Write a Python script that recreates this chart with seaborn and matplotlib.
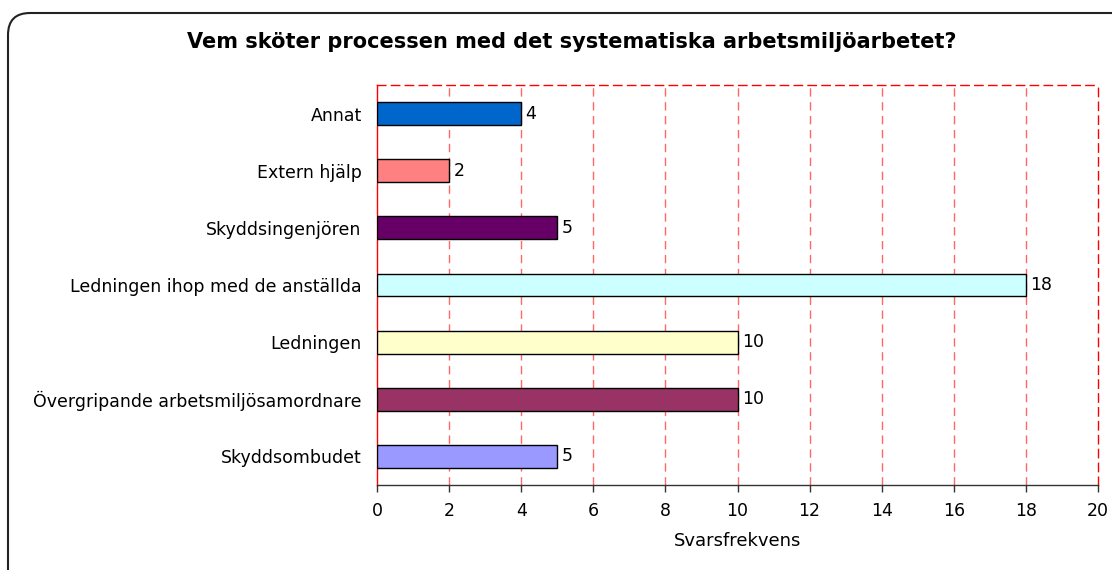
import matplotlib
matplotlib.use('Agg')
import matplotlib.pyplot as plt
from matplotlib.patches import FancyBboxPatch
from matplotlib.transforms import IdentityTransform
import seaborn as sns
import pandas as pd

categories = ['Annat', 'Extern hjälp', 'Skyddsingenjören', 'Ledningen ihop med de anställda',
              'Ledningen', 'Övergripande arbetsmiljösamordnare', 'Skyddsombudet']
values = [4, 2, 5, 18, 10, 10, 5]
colors = ['#0066CC', '#FF8080', '#660066', '#CCFFFF', '#FFFFCC', '#993366', '#9999FF']
xticks = list(range(0, 21, 2))

df = pd.DataFrame({'kategori': categories, 'antal': values})

sns.set_style('white')
plt.rcParams['font.family'] = ['DejaVu Sans']
plt.rcParams['text.color'] = 'black'
plt.rcParams['xtick.color'] = '#333333'
plt.rcParams['xtick.labelcolor'] = 'black'
plt.rcParams['ytick.labelcolor'] = 'black'
plt.rcParams['axes.labelcolor'] = 'black'

fs = 12.5

fig = plt.figure(figsize=(11.12, 5.70), dpi=100)
ax = fig.add_axes([377/1112, 1 - 485/570, (1098 - 377)/1112, 400/570])

sns.barplot(data=df, y='kategori', x='antal', hue='kategori', palette=colors,
            order=categories, hue_order=categories, legend=False, saturation=1,
            width=0.4, edgecolor='black', linewidth=1, ax=ax, zorder=3)

ax.set_xlim(0, 20)
ax.set_xticks(xticks)
ax.set_xticklabels([str(t) for t in xticks], fontsize=fs)
ax.tick_params(axis='x', length=5, width=1, pad=7, direction='out', bottom=True)
ax.tick_params(axis='y', length=0, pad=11, labelsize=fs)
ax.set_ylabel('')
ax.set_xlabel('Svarsfrekvens', fontsize=fs + 0.5, labelpad=9)

dash = (0, (6, 4))
for x in xticks[1:-1]:
    ax.axvline(x, color='#FF5555', linestyle=dash, linewidth=1, alpha=0.9, zorder=1)

ax.spines['left'].set_color('red')
ax.spines['left'].set_linewidth(1)
for side in ['top', 'right']:
    ax.spines[side].set_color('red')
    ax.spines[side].set_linestyle(dash)
    ax.spines[side].set_linewidth(1)
ax.spines['bottom'].set_color('#333333')
ax.spines['bottom'].set_linewidth(1)
ax.spines['bottom'].set_zorder(4)

for i, v in enumerate(values):
    ax.text(v + 0.12, i, str(v), va='center', ha='left', fontsize=fs, color='black')

fig.text(572/1112, 1 - 42/570, 'Vem sköter processen med det systematiska arbetsmiljöarbetet?',
         ha='center', va='center', fontsize=15, fontweight='bold', color='black')

border = FancyBboxPatch((8, -50), 1200, 570 - 13 + 50,
                        boxstyle='round,pad=0,rounding_size=22',
                        transform=IdentityTransform(), fill=False,
                        edgecolor='#222222', linewidth=1.5)
fig.patches.append(border)

fig.savefig('out.png', dpi=100)
